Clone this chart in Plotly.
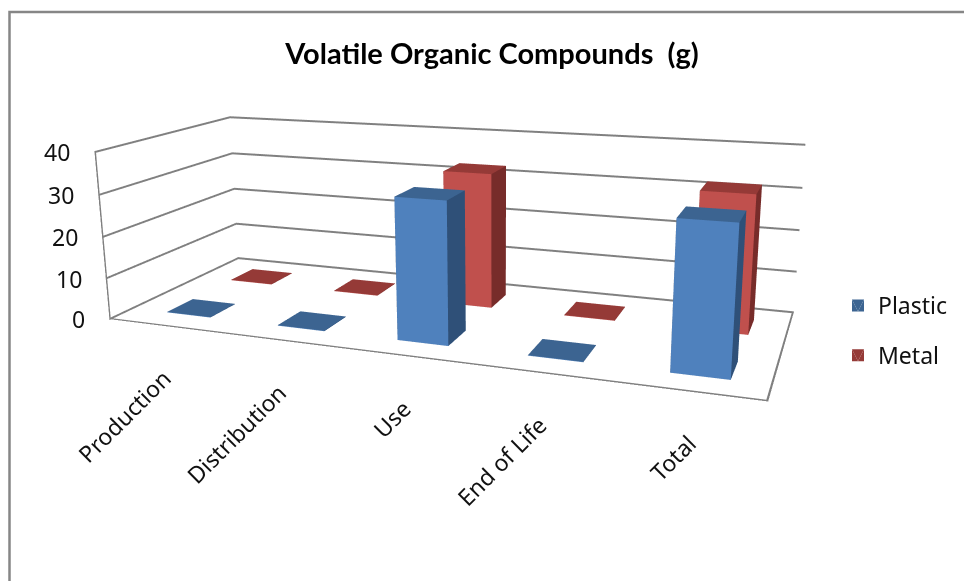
import plotly.graph_objects as go

categories = ["Production", "Distribution", "Use", "End of Life", "Total"]
series_names = ["Plastic", "Metal"]
plastic = [0.1, 0.1, 32.5, 0.1, 32.3]
metal = [0.1, 0.1, 32.8, 0.1, 32]
value_ticks = [0, 10, 20, 30, 40]

# (front, top, side) shades for each series
palette = {"Plastic": ("#4F81BD", "#3C6491", "#2F5078"),
           "Metal": ("#C0504D", "#953A37", "#772C2A")}

BAR_W = 0.2
BAR_D = 0.19
BAR_SHIFT = 0.03
EDGE = 0.014
X_RANGE = [-0.5, 4.5]
Y_RANGE = [-0.5, 1.5]
Z_RANGE = [0, 40]
GRID = "#808080"
FONT = "Noto Sans"
TEXT = "#111111"

# The page is shifted so that the 3D principal point lands where the reference has it.
FIG_H = 942
SHIFT = 228


def py(y):
    return 1 - (y + SHIFT) / FIG_H


def box(cx, cy, h, shades, name, show):
    front, top, side = shades
    x0, x1 = cx + BAR_SHIFT - BAR_W, cx + BAR_SHIFT + BAR_W
    y0, y1 = cy - BAR_D, cy + BAR_D
    xs = [x0, x1, x1, x0, x0, x1, x1, x0]
    ys = [y0, y0, y1, y1, y0, y0, y1, y1]
    zs = [0, 0, 0, 0, h, h, h, h]
    i = [0, 0, 4, 4, 0, 0, 1, 1, 2, 2, 3, 3]
    j = [1, 2, 5, 6, 1, 5, 2, 6, 3, 7, 0, 4]
    k = [2, 3, 6, 7, 5, 4, 6, 5, 7, 6, 4, 7]
    fc = [top, top, top, top, front, front, side, side, side, side, side, side]
    return go.Mesh3d(x=xs, y=ys, z=zs, i=i, j=j, k=k, facecolor=fc, color=front, flatshading=True,
                     name=name, showlegend=show, legendgroup=name, opacity=1,
                     lighting=dict(ambient=1, diffuse=0, specular=0, roughness=1, fresnel=0),
                     hoverinfo="skip")


def strip(xs, ys, zs):
    return go.Mesh3d(x=xs, y=ys, z=zs, i=[0, 0], j=[1, 2], k=[2, 3], color=GRID, showlegend=False,
                     lighting=dict(ambient=1, diffuse=0, specular=0, roughness=1, fresnel=0),
                     hoverinfo="skip")


fig = go.Figure()
for idx, (name, vals) in enumerate(zip(series_names, [plastic, metal])):
    for c, v in enumerate(vals):
        fig.add_trace(box(c, idx, v, palette[name], name, c == 0))

xa, xb = X_RANGE
ya, yb = Y_RANGE
za, zb = Z_RANGE
# left upright, front floor edge, right floor edge of the chart box
fig.add_trace(strip([xa, xa + EDGE, xa + EDGE, xa], [ya] * 4, [za, za, zb, zb]))
fig.add_trace(strip([xa, xb, xb, xa], [ya, ya, ya + EDGE * 2, ya + EDGE * 2], [za] * 4))
fig.add_trace(strip([xb - EDGE, xb, xb, xb - EDGE], [ya, ya, yb, yb], [za] * 4))

annots = []
for c, label in enumerate(categories):
    annots.append(dict(x=c, y=Y_RANGE[0], z=0, text=label, showarrow=False, textangle=-45,
                       xanchor="right", yanchor="top", xshift=17, yshift=-34,
                       font=dict(family=FONT, size=23, color=TEXT)))
for v in value_ticks:
    annots.append(dict(x=X_RANGE[0], y=Y_RANGE[0], z=v, text=str(v), showarrow=False,
                       xanchor="right", yanchor="middle", xshift=-22,
                       font=dict(family=FONT, size=23, color=TEXT)))

axis_common = dict(showbackground=False, zeroline=False, showline=False, showspikes=False,
                   title="", ticks="", showticklabels=False)
fig.update_layout(
    width=964, height=FIG_H, paper_bgcolor="white", margin=dict(l=0, r=0, t=0, b=0),
    title=dict(text="<b>Volatile Organic Compounds  (g)</b>", x=492 / 964, y=py(54), xanchor="center",
               yanchor="middle", font=dict(family="Lato", size=29, color="black")),
    font=dict(family=FONT, size=23, color=TEXT),
    legend=dict(x=838 / 964, y=py(284), xanchor="left", yanchor="top", font=dict(size=23),
                tracegroupgap=17, bgcolor="rgba(0,0,0,0)"),
    scene=dict(
        domain=dict(x=[0.0, 894 / 964], y=[0, 1]),
        aspectmode="manual", aspectratio=dict(x=2.243, y=0.863, z=0.594),
        xaxis=dict(axis_common, range=X_RANGE, showgrid=False, tickvals=[]),
        yaxis=dict(axis_common, range=Y_RANGE, showgrid=False, tickvals=[]),
        zaxis=dict(axis_common, range=Z_RANGE, tickvals=value_ticks, showgrid=True,
                   gridcolor=GRID, gridwidth=4),
        camera=dict(eye=dict(x=1.364, y=-3.549, z=0.947),
                    center=dict(x=-0.0067, y=-0.0167, z=-0.0296),
                    up=dict(x=-0.0801, y=0.2364, z=0.9683),
                    projection=dict(type="perspective")),
        annotations=annots,
    ),
    shapes=[dict(type="rect", xref="paper", yref="paper", x0=9.5 / 964, x1=1.02, y0=py(620), y1=py(12),
                 line=dict(color="#868686", width=2.5), fillcolor="rgba(0,0,0,0)")],
)
post = ("document.documentElement.style.overflow='hidden';document.body.style.overflow='hidden';"
        "document.body.style.margin='0';var d=document.getElementById('{plot_id}');"
        "d.style.position='relative';d.style.top='-%dpx';" % SHIFT)
fig.write_html("out.html", post_script=post)
